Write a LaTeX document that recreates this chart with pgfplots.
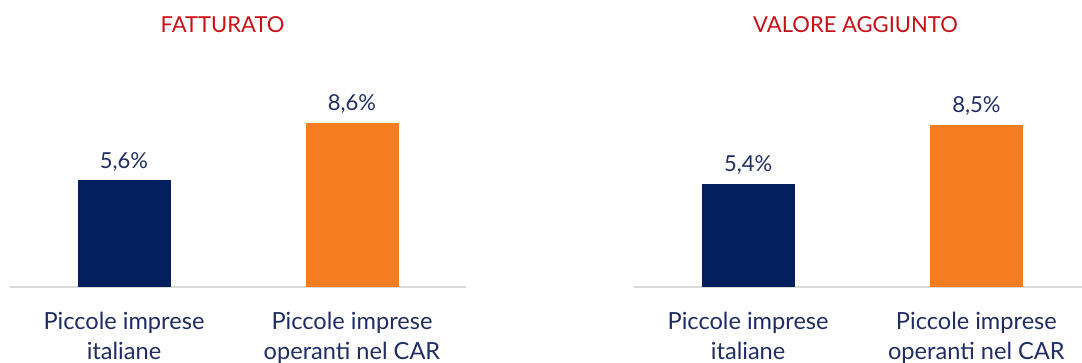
\documentclass[border=0pt]{standalone}
\usepackage{pgfplots}
\pgfplotsset{compat=1.18}
\usepackage{fontspec}
\setmainfont{Lato}
\definecolor{navybar}{RGB}{3,31,94}
\definecolor{orangebar}{RGB}{244,125,34}
\definecolor{txt}{RGB}{31,45,100}
\definecolor{ttl}{RGB}{200,16,22}
\definecolor{axgray}{RGB}{217,217,217}
\pgfplotsset{
  panel/.style={
    scale only axis,
    anchor=south west,
    height=143.25pt,
    ymin=0, ymax=10,
    xmin=-0.5,
    axis x line*=bottom,
    axis y line=none,
    x axis line style={axgray, line width=1.3pt, -},
    major tick length=0pt,
    xtick={0,1},
    xticklabels={{Piccole imprese\\italiane},{Piccole imprese\\operanti nel CAR}},
    xticklabel style={align=center, text=txt, font=\fontsize{17.7}{22.5}\selectfont, yshift=-15pt},
    ytick=\empty,
    clip=false,
    nodes near coords,
    point meta=explicit symbolic,
    nodes near coords style={anchor=base, yshift=9pt, text=txt, font=\fontsize{16.5}{20}\selectfont},
  }
}
\begin{document}
\begin{tikzpicture}
\useasboundingbox (0,0) rectangle (811.5pt,271.5pt);
\begin{scope}
\clip (0,0) rectangle (811.5pt,271.5pt);
\begin{axis}[panel, at={(7.5pt,56.25pt)}, width=342pt, xmax=1.5]
\addplot[ybar, bar width=69.75pt, fill=navybar, draw=none] coordinates {(0,5.6) [5,6\%]};
\addplot[ybar, bar width=69.75pt, fill=orangebar, draw=none] coordinates {(1,8.6) [8,6\%]};
\end{axis}
\begin{axis}[panel, at={(475.5pt,56.25pt)}, width=336pt, xmax=1.4627]
\addplot[ybar, bar width=69.75pt, fill=navybar, draw=none] coordinates {(0,5.4) [5,4\%]};
\addplot[ybar, bar width=69.75pt, fill=orangebar, draw=none] coordinates {(1,8.5) [8,5\%]};
\end{axis}
\end{scope}
\node[anchor=base, text=ttl, font=\fontsize{16.5}{20}\selectfont] at (166.9pt,247.5pt) {FATTURATO};
\node[anchor=base, text=ttl, font=\fontsize{16.5}{20}\selectfont] at (641.6pt,247.5pt) {VALORE AGGIUNTO};
\end{tikzpicture}
\end{document}
